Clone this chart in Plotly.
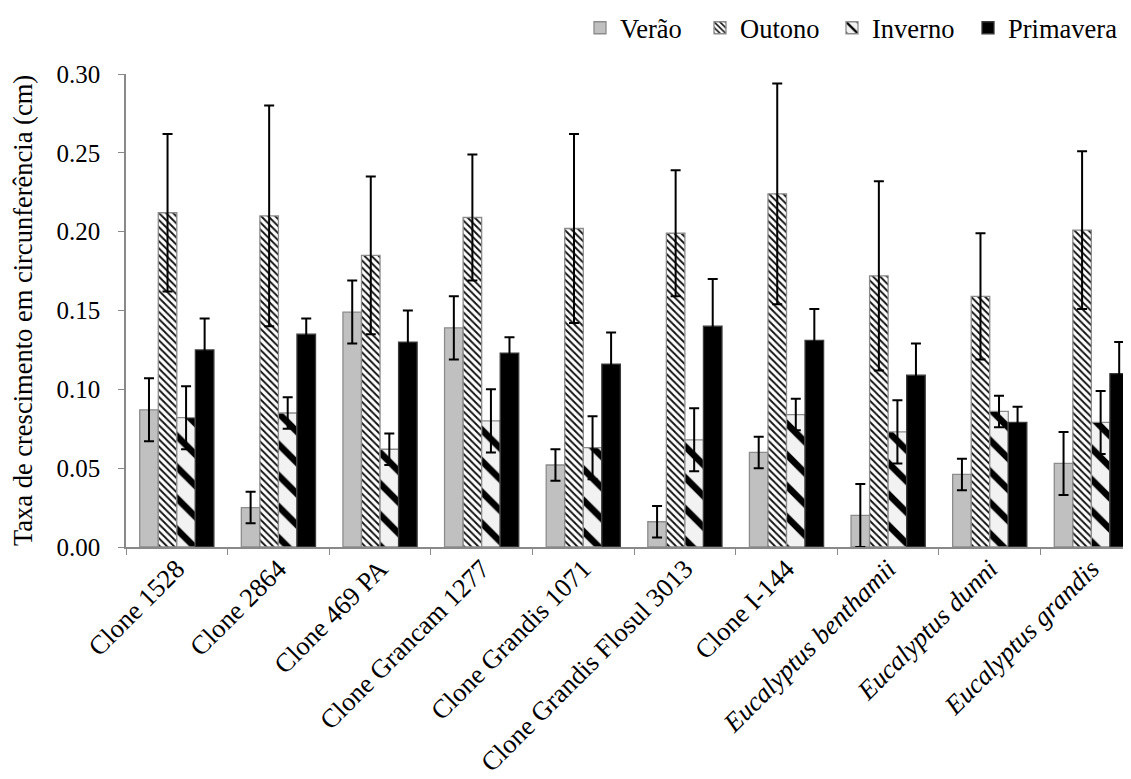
import plotly.graph_objects as go

categories = [
    "Clone 1528", "Clone 2864", "Clone 469 PA", "Clone Grancam 1277",
    "Clone Grandis 1071", "Clone Grandis Flosul 3013", "Clone I-144",
    "<i>Eucalyptus benthamii</i>", "<i>Eucalyptus dunni</i>", "<i>Eucalyptus grandis</i>",
]

verao = [0.087, 0.025, 0.149, 0.139, 0.052, 0.016, 0.060, 0.020, 0.046, 0.053]
verao_err = [0.020, 0.010, 0.020, 0.020, 0.010, 0.010, 0.010, 0.020, 0.010, 0.020]

outono = [0.212, 0.210, 0.185, 0.209, 0.202, 0.199, 0.224, 0.172, 0.159, 0.201]
outono_err = [0.050, 0.070, 0.050, 0.040, 0.060, 0.040, 0.070, 0.060, 0.040, 0.050]

inverno = [0.082, 0.085, 0.062, 0.080, 0.063, 0.068, 0.084, 0.073, 0.086, 0.079]
inverno_err = [0.020, 0.010, 0.010, 0.020, 0.020, 0.020, 0.010, 0.020, 0.010, 0.020]

primavera = [0.125, 0.135, 0.130, 0.123, 0.116, 0.140, 0.131, 0.109, 0.079, 0.110]
primavera_err = [0.020, 0.010, 0.020, 0.010, 0.020, 0.030, 0.020, 0.020, 0.010, 0.020]

y_ticks = [0.00, 0.05, 0.10, 0.15, 0.20, 0.25, 0.30]

FONT = "Liberation Serif"
FS = 26.5
FS_Y = 25
BORDER = "#8c8c8c"
OFF = 8  # default page body margin

def err(arr):
    return dict(type="data", array=arr, visible=True, color="black", thickness=2, width=5)

fig = go.Figure()

fig.add_trace(go.Bar(
    name="Verão", x=categories, y=verao, error_y=err(verao_err),
    marker=dict(color="#c0c0c0", line=dict(color=BORDER, width=1.3)),
    legend="legend",
))
fig.add_trace(go.Bar(
    name="Outono", x=categories, y=outono, error_y=err(outono_err),
    marker=dict(color="white", line=dict(color=BORDER, width=1.3),
                pattern=dict(shape="\\", bgcolor="white", fgcolor="#111111",
                             size=5, solidity=0.38, fillmode="replace")),
    legend="legend2",
))
fig.add_trace(go.Bar(
    name="Inverno", x=categories, y=inverno, error_y=err(inverno_err),
    marker=dict(color="#f2f2f2", line=dict(color=BORDER, width=1.3),
                pattern=dict(shape="\\", bgcolor="#f2f2f2", fgcolor="black",
                             size=22, solidity=0.3, fillmode="replace")),
    legend="legend3",
))
fig.add_trace(go.Bar(
    name="Primavera", x=categories, y=primavera, error_y=err(primavera_err),
    marker=dict(color="black", line=dict(color="#3a3a3a", width=1.3)),
    legend="legend4",
))

W, H = 1131 - OFF, 779 - OFF

def leg(text_left):
    return dict(
        x=(text_left - 40 - OFF) / W, xref="container", xanchor="left",
        y=1 - (28 - OFF) / H, yref="container", yanchor="middle",
        font=dict(family=FONT, size=FS, color="black"),
        bgcolor="rgba(0,0,0,0)", borderwidth=0,
    )

top = 74 - OFF
bottom_px = 546.7 - OFF
fig.update_layout(
    width=W, height=H,
    margin=dict(l=126 - OFF, r=0, t=top, b=H - bottom_px, autoexpand=False),
    plot_bgcolor="white", paper_bgcolor="white",
    font=dict(family=FONT, size=FS, color="black"),
    barmode="group", bargap=0.27, bargroupgap=0.0,
    showlegend=True,
    legend=leg(620), legend2=leg(740), legend3=leg(872), legend4=leg(1008),
)

fig.update_xaxes(
    type="category", range=[-0.5, 9.39], automargin=False,
    tickangle=-45, tickson="boundaries",
    ticks="outside", ticklen=6, tickcolor="#898989", tickwidth=1,
    ticklabelstandoff=-6,
    showline=True, linecolor="#898989", linewidth=1.5,
    showgrid=False, tickfont=dict(family=FONT, size=FS, color="black"),
)
fig.update_yaxes(
    range=[0, 0.30], tickvals=y_ticks, tickformat=".2f", automargin=False,
    ticks="outside", ticklen=6, tickcolor="#898989", tickwidth=1,
    showline=True, linecolor="#898989", linewidth=1.5,
    showgrid=False, zeroline=False,
    ticklabelstandoff=13,
    tickfont=dict(family=FONT, size=FS_Y, color="black"),
    title=dict(text="Taxa de crescimento em circunferência (cm)",
               font=dict(family=FONT, size=FS, color="black"), standoff=19),
)

fig.write_html("out.html")
